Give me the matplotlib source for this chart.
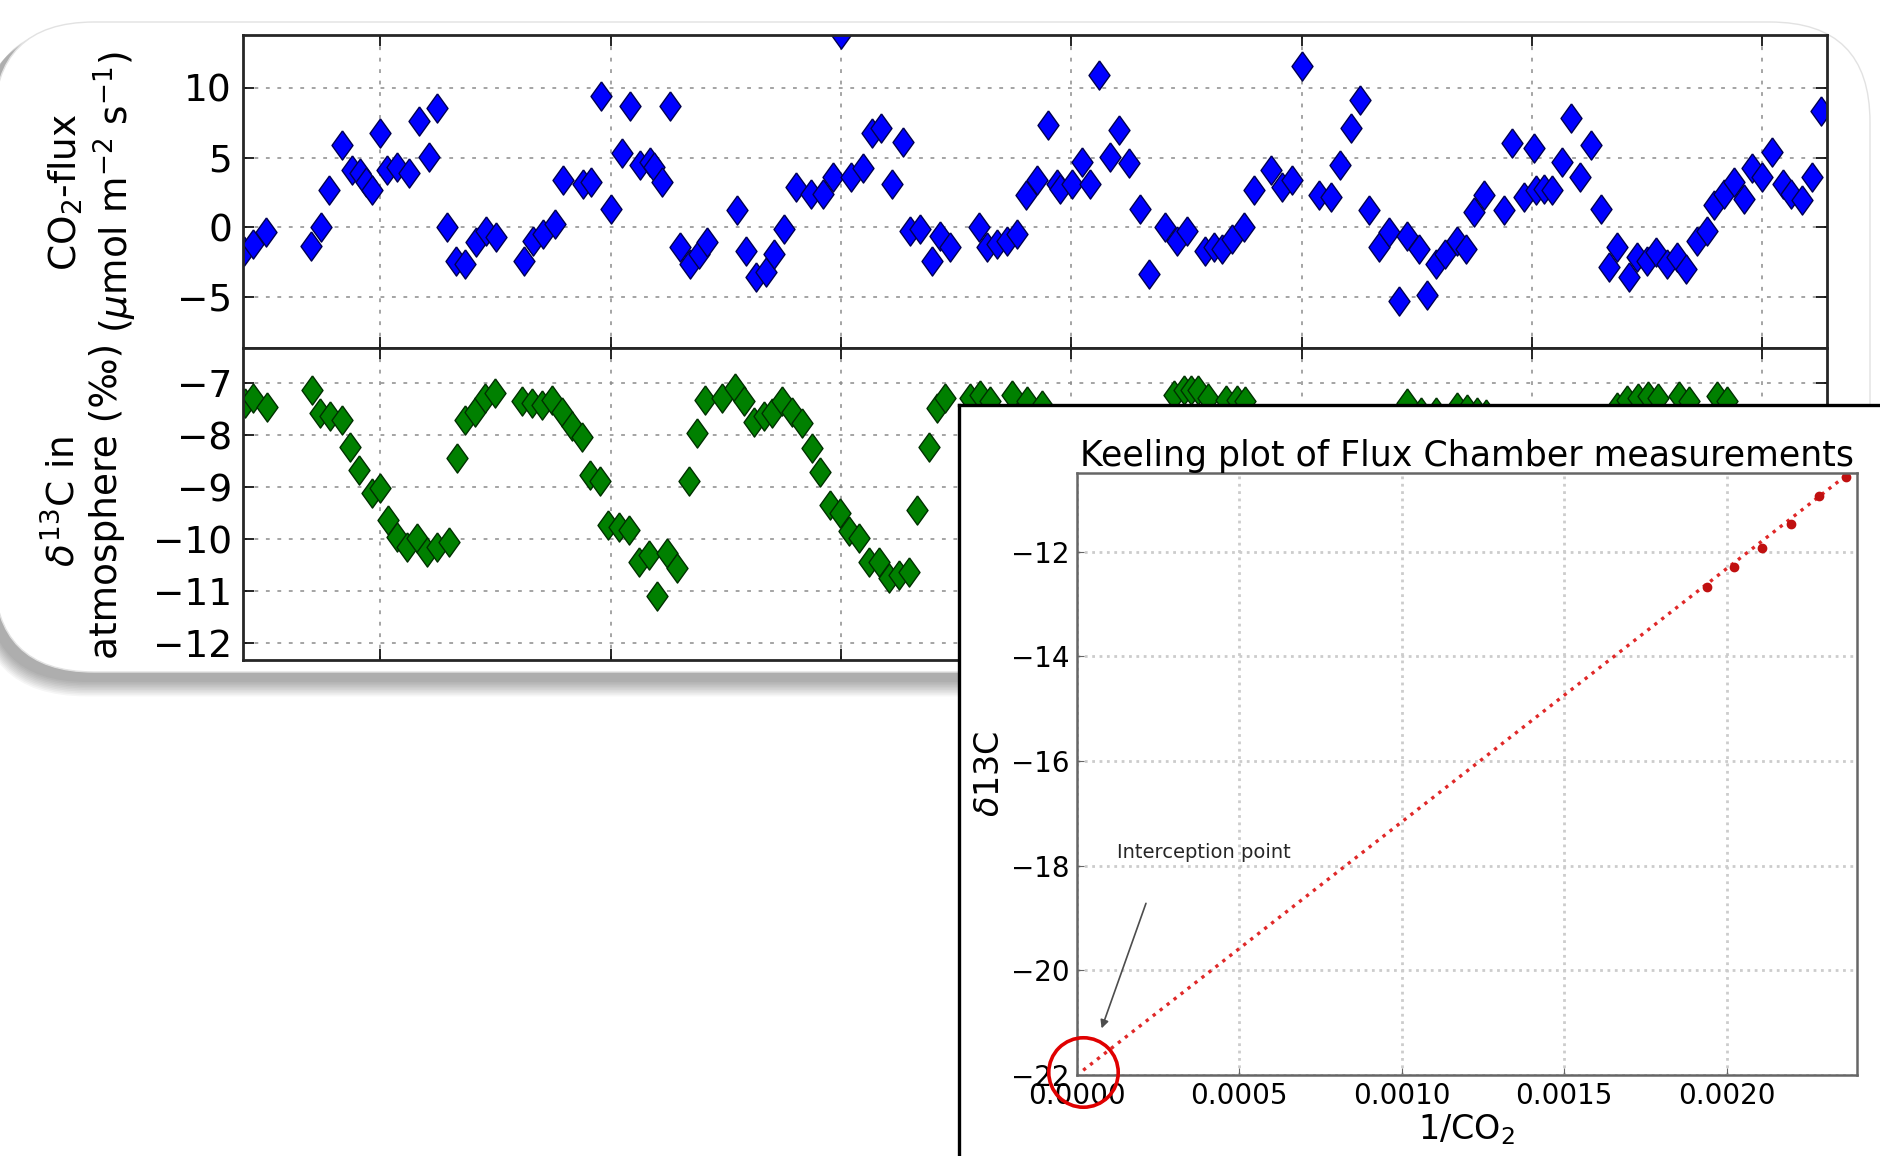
import matplotlib
matplotlib.use("Agg")
import matplotlib.pyplot as plt
from matplotlib.patches import FancyBboxPatch
from matplotlib.ticker import FormatStrFormatter

# CO2 flux time series (x in days, y in umol m-2 s-1)
flux_x = [0.41, 0.447, 0.505, 0.70, 0.745, 0.78, 0.833, 0.876, 0.913, 0.94, 0.964,
          1.0, 1.03, 1.073, 1.124, 1.167, 1.21, 1.248, 1.29, 1.328, 1.37, 1.415,
          1.459, 1.502, 1.626, 1.662, 1.706, 1.757, 1.793, 1.88, 1.917, 1.96,
          2.004, 2.048, 2.084, 2.128, 2.172, 2.19, 2.223, 2.259, 2.303, 2.347,
          2.383, 2.419, 2.55, 2.586, 2.63, 2.674, 2.71, 2.754, 2.805, 2.87, 2.921,
          2.965, 3.0, 3.045, 3.096, 3.133, 3.176, 3.22, 3.27, 3.3, 3.344, 3.394,
          3.43, 3.475, 3.6, 3.634, 3.678, 3.722, 3.766, 3.802, 3.853, 3.897, 3.94,
          3.953, 4.003, 4.047, 4.083, 4.119, 4.17, 4.206, 4.249, 4.3, 4.336, 4.408,
          4.459, 4.503, 4.582, 4.618, 4.655, 4.698, 4.749, 4.792, 4.865, 4.915,
          4.959, 5.002, 5.074, 5.125, 5.168, 5.212, 5.255, 5.291, 5.335, 5.378,
          5.422, 5.458, 5.508, 5.545, 5.581, 5.624, 5.675, 5.711, 5.747, 5.791,
          5.877, 5.914, 5.964, 6.008, 6.015, 6.051, 6.088, 6.131, 6.167, 6.21,
          6.254, 6.297, 6.333, 6.369, 6.42, 6.457, 6.5, 6.536, 6.587, 6.63, 6.667,
          6.717, 6.76, 6.789, 6.833, 6.876, 6.92, 6.956, 7.0, 7.043, 7.087, 7.123,
          7.173, 7.217, 7.253]
flux_y = [-1.68, -1.2, -0.36, -1.32, 0.0, 2.65, 5.9, 4.1, 3.86, 3.25, 2.65,
          6.75, 4.1, 4.34, 3.86, 7.59, 5.06, 8.55, 0.0, -2.4, -2.65, -1.08,
          -0.24, -0.72, -2.4, -0.96, -0.48, 0.25, 3.37, 3.13, 3.25, 9.39,
          1.33, 5.3, 8.67, 4.46, 4.7, 4.34, 3.25, 8.67, -1.44, -2.65,
          -1.92, -1.08, 1.2, -1.68, -3.61, -3.25, -1.92, -0.12, 2.89, 2.41, 2.41,
          3.61, 13.9, 3.61, 4.22, 6.75, 7.11, 3.13, 6.14, -0.24, -0.12, -2.4,
          -0.6, -1.44, 0.0, -1.44, -1.2, -0.96, -0.48, 2.29, 3.37, 7.35, 3.13,
          2.77, 3.13, 4.7, 3.13, 10.96, 5.06, 6.99, 4.58, 1.33, -3.37, 0.0,
          -0.96, -0.24, -1.68, -1.44, -1.56, -0.84, 0.0, 2.65, 4.1, 2.89,
          3.37, 11.56, 2.29, 2.17, 4.46, 7.11, 9.15, 1.2, -1.44, -0.36,
          -5.3, -0.6, -1.56, -4.9, -2.65, -1.92, -0.96, -1.56, 1.08, 2.29,
          1.2, 6.03, 2.17, 5.66, 2.65, 2.77, 2.65, 4.7, 7.83, 3.61,
          5.9, 1.33, -2.89, -1.44, -3.61, -2.17, -2.4, -1.8, -2.65, -2.17, -3.0,
          -0.96, -0.24, 1.57, 2.41, 3.25, 2.05, 4.22, 3.61, 5.42, 3.13, 2.41,
          1.93, 3.61, 8.31]

# delta13C of atmosphere (per mil); points hidden behind the inset are not shown
d13c_x = [0.414, 0.45, 0.508, 0.703, 0.739, 0.783, 0.834, 0.87, 0.906, 0.964,
          1.0, 1.036, 1.072, 1.116, 1.159, 1.203, 1.246, 1.297, 1.333, 1.369,
          1.412, 1.456, 1.499, 1.615, 1.659, 1.702, 1.746, 1.789, 1.833, 1.876,
          1.912, 1.955, 1.991, 2.035, 2.078, 2.122, 2.165, 2.201, 2.245, 2.288,
          2.339, 2.375, 2.411, 2.483, 2.541, 2.578, 2.621, 2.664, 2.701, 2.744,
          2.788, 2.831, 2.875, 2.911, 2.954, 2.997, 3.034, 3.077, 3.121, 3.164,
          3.207, 3.251, 3.294, 3.33, 3.381, 3.417, 3.453, 3.562, 3.605, 3.649,
          3.743, 3.808, 3.873, 4.446, 4.487, 4.519, 4.552, 4.595, 4.673, 4.719,
          4.752, 5.455, 5.516, 5.581, 5.672, 5.716, 5.759, 5.798, 6.367, 6.413,
          6.458, 6.501, 6.545, 6.636, 6.679, 6.801, 6.845]
d13c_y = [-7.38, -7.29, -7.45, -7.13, -7.58, -7.64, -7.71, -8.22, -8.67, -9.12,
          -9.02, -9.63, -9.95, -10.14, -9.98, -10.24, -10.14, -10.05, -8.44, -7.71,
          -7.55, -7.29, -7.19, -7.35, -7.38, -7.42, -7.32, -7.55, -7.83, -8.03,
          -8.76, -8.89, -9.72, -9.76, -9.82, -10.43, -10.3, -11.1, -10.27, -10.56,
          -8.89, -7.96, -7.32, -7.29, -7.1, -7.35, -7.74, -7.64, -7.58, -7.35,
          -7.55, -7.77, -8.25, -8.7, -9.34, -9.5, -9.85, -9.98, -10.43, -10.43,
          -10.75, -10.69, -10.62, -9.44, -8.22, -7.48, -7.29, -7.29, -7.22, -7.35,
          -7.22, -7.35, -7.42, -7.22, -7.13, -7.13, -7.13, -7.28, -7.32, -7.32,
          -7.34, -7.38, -7.55, -7.55, -7.45, -7.5, -7.55, -7.6, -7.45, -7.32,
          -7.29, -7.24, -7.29, -7.24, -7.34, -7.24, -7.34]

# Keeling plot
keeling_x = [0.001939, 0.002022, 0.002108, 0.002197, 0.002285, 0.002366]
keeling_y = [-12.67, -12.29, -11.92, -11.47, -10.93, -10.58]
fit_x = [0.00002, 0.00238]
fit_y = [-21.91, -10.48]
intercept_x = 0.00002
intercept_y = -21.95

diamond = [(0, 1), (0.72, 0), (0, -1), (-0.72, 0), (0, 1)]

fig = plt.figure(figsize=(18.8, 11.56), dpi=100)

# rounded card with soft shadow behind the time series
bg = fig.add_axes([0, 0, 1, 1], zorder=-5)
bg.set_xlim(0, 1880)
bg.set_ylim(1156, 0)
bg.axis('off')
for i in range(10):
    bg.add_patch(FancyBboxPatch((-14 - i, 26 + i * 0.6), 1880, 656 + i,
                                boxstyle="round,pad=0,rounding_size=%d" % (100 + i),
                                fc='k', ec='none', alpha=0.035))
bg.add_patch(FancyBboxPatch((-6, 22), 1876, 650, boxstyle="round,pad=0,rounding_size=100",
                            fc='white', ec='#e2e2e2', lw=1))

ax1 = fig.add_axes([0.1293, 0.6987, 0.8425, 0.2710])
ax2 = fig.add_axes([0.1293, 0.4291, 0.8425, 0.2696], sharex=ax1)

ax1.plot(flux_x, flux_y, ls='none', marker=diamond, ms=21, mfc='#0000ff', mec='#000050', mew=1)
ax2.plot(d13c_x, d13c_y, ls='none', marker=diamond, ms=21, mfc='#008000', mec='#003000', mew=1)

ax1.set_xlim(0.405, 7.28)
ax1.set_ylim(-8.7, 13.8)
ax2.set_ylim(-12.32, -6.33)
ax1.set_xticks([1, 2, 3, 4, 5, 6, 7])
ax1.set_yticks([-5, 0, 5, 10])
ax2.set_yticks([-12, -11, -10, -9, -8, -7])

for ax in (ax1, ax2):
    ax.grid(True, ls=(0, (2.5, 5)), lw=1.1, color='0.55')
    ax.tick_params(direction='in', length=8, width=1.2, top=True, right=True,
                   labelsize=27, labelbottom=False, pad=8)
    for s in ax.spines.values():
        s.set_linewidth(2)
        s.set_color('0.15')

ax1.set_ylabel('CO$_2$-flux\n($\\mu$mol m$^{-2}$ s$^{-1}$)', fontsize=27)
ax1.yaxis.label.set_va('center')
ax1.yaxis.set_label_coords(-0.0947, 0.5)
ax2.set_ylabel('$\\delta^{13}$C in\natmosphere (‰)', fontsize=27)
ax2.yaxis.label.set_va('center')
ax2.yaxis.set_label_coords(-0.1000, 0.51)

# white box holding the Keeling plot
box = fig.add_axes([959 / 1880, -0.02, 0.6, 1 - 405 / 1156 + 0.02])
box.set_xticks([])
box.set_yticks([])
for s in box.spines.values():
    s.set_linewidth(2.4)
    s.set_color('black')

kax = fig.add_axes([0.5727, 0.0701, 0.4150, 0.5210])
kax.plot(fit_x, fit_y, ls=':', color='#e02828', lw=2.4)
kax.plot(keeling_x, keeling_y, ls='none', marker='o', ms=6, color='#c01010')
kax.plot([intercept_x], [intercept_y], marker='o', ms=50, mfc='none', mec='#e00000',
         mew=2.6, clip_on=False, zorder=5)
kax.annotate('', xy=(0.0000738, -21.16), xytext=(0.000216, -18.67),
             arrowprops=dict(arrowstyle='-|>', color='0.3', lw=1.2, mutation_scale=12))
kax.text(0.0001236, -17.75, 'Interception point', fontsize=14, color='0.15',
         ha='left', va='center')

kax.set_xlim(0, 0.0024)
kax.set_ylim(-22, -10.49)
kax.set_xticks([0, 0.0005, 0.001, 0.0015, 0.002])
kax.set_yticks([-22, -20, -18, -16, -14, -12])
kax.xaxis.set_major_formatter(FormatStrFormatter('%.4f'))
kax.grid(True, ls=':', lw=2, color='#cccccc')
kax.tick_params(direction='in', length=5, color='0.4', labelsize=20, pad=5)
for s in kax.spines.values():
    s.set_linewidth(1.8)
    s.set_color('0.4')
kax.set_title('Keeling plot of Flux Chamber measurements', fontsize=25, pad=2)
kax.set_xlabel('1/CO$_2$', fontsize=24, labelpad=2)
kax.set_ylabel('$\\delta$13C', fontsize=24, labelpad=4)

fig.savefig('out.png', dpi=100)
